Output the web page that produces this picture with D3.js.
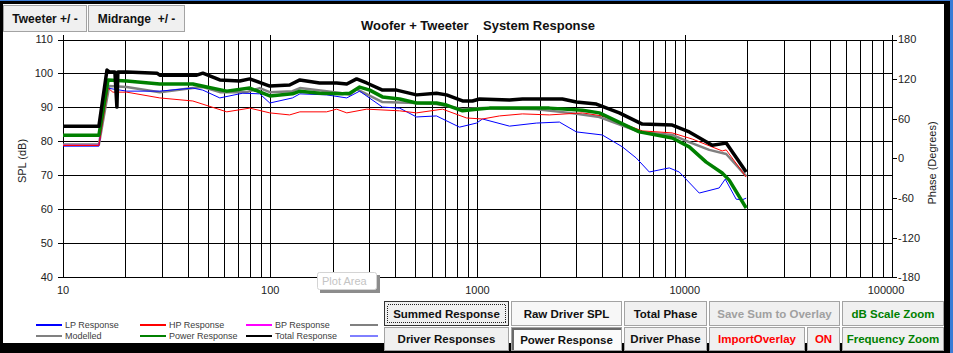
<!DOCTYPE html>
<html>
<head>
<meta charset="utf-8">
<script src="https://cdn.jsdelivr.net/npm/d3@7"></script>
<style>
  html, body { margin: 0; padding: 0; background: #000; }
  svg { display: block; font-family: "Liberation Sans", Arial, sans-serif; }
  .pre { white-space: pre; }
</style>
</head>
<body>
<svg id="chart" width="953" height="353"></svg>
<script>
// values: [frequency Hz, SPL dB]
const totalResponse = [[10,84.5],[14.9,84.5],[16.3,101.0],[16.8,100.4],[17.8,100.4],[18.2,90.1],[18.4,100.4],[20.3,100.4],[28.4,100.1],[29.3,99.5],[44.2,99.5],[47.3,100.1],[57.1,98.1],[71.3,97.8],[79.6,98.4],[99.5,96.3],[124,96.6],[139,98.1],[173,97.2],[209,97.2],[234,96.9],[261,98.4],[292,97.2],[348,95.1],[407,95.1],[508,93.7],[634,94.2],[709,93.7],[847,91.9],[946,91.9],[1022,92.5],[1427,92.2],[1648,92.5],[2568,92.5],[3000,91.6],[3745,91.0],[4832,88.4],[6237,85.1],[8706,84.8],[10513,82.8],[13570,78.9],[15850,79.5],[19790,71.0]]
const powerResponse = [[10,81.8],[14.9,81.8],[16.5,98.1],[20.3,97.8],[29.3,96.9],[42.3,96.9],[49.4,96.0],[61.7,94.8],[79.6,95.7],[99.5,93.4],[128,94.0],[139,94.8],[173,94.2],[223,94.0],[242,94.2],[270,96.0],[302,95.1],[348,93.1],[421,92.5],[508,91.3],[634,91.3],[709,90.7],[847,89.0],[989,89.5],[1142,89.8],[2222,89.8],[3206,89.2],[3872,88.4],[6036,82.8],[8706,81.0],[10513,78.4],[12695,73.9],[15160,70.7],[16390,68.6],[19790,60.4]]
const modelled = [[10,79.1],[14.9,79.1],[16.7,96.3],[20.3,96.0],[29.3,94.5],[42.3,95.7],[47.3,96.0],[57.1,94.5],[77.0,94.5],[89.0,95.7],[99.5,94.5],[128,94.8],[139,95.7],[187,94.8],[223,94.2],[242,93.7],[261,95.4],[348,91.6],[508,91.3],[634,91.0],[847,89.5],[1057,89.8],[1923,89.5],[2775,88.4],[3872,87.2],[6036,82.8],[8706,81.9],[10513,79.8],[13127,77.5],[15850,76.3],[19790,69.8]]
const hpResponse = [[10,78.8],[14.9,78.8],[16.5,95.7],[17.4,94.5],[20.3,94.5],[29.3,92.8],[42.3,91.9],[61.7,88.7],[79.6,89.8],[99.5,88.4],[124,87.8],[139,88.7],[187,88.7],[209,89.5],[234,88.4],[292,89.5],[421,89.0],[508,88.4],[678,89.5],[885,86.9],[1057,86.6],[1277,87.5],[1648,88.1],[2222,87.8],[3206,88.4],[4000,87.5],[6237,83.1],[8706,82.5],[10870,80.7],[15160,77.2],[15850,77.5],[19790,69.5]]
const lpResponse = [[10,78.6],[14.9,78.6],[16.3,95.7],[20.3,94.8],[29.3,94.8],[42.3,95.7],[47.3,95.1],[57.1,92.8],[73.7,94.2],[89.0,94.0],[99.5,91.3],[128,92.8],[139,94.0],[187,93.7],[234,92.8],[270,94.8],[348,90.1],[421,89.8],[508,87.2],[634,87.5],[819,84.2],[989,85.4],[1057,86.6],[1427,84.5],[1923,85.4],[2484,85.7],[3000,82.8],[4000,81.9],[5000,78.4],[5838,75.1],[6745,71.0],[8418,72.2],[9400,71.0],[11747,64.8],[14660,66.3],[15680,68.9],[17700,63.0],[18920,62.8],[19790,63.3]]
const bpResponse = [[10,78.9],[14.9,78.9],[16.4,95.2]]

const splTicks = [40, 50, 60, 70, 80, 90, 100, 110]
const phaseTicks = [-180, -120, -60, 0, 60, 120, 180]
const decadeTicks = [10, 100, 1000, 10000, 100000]

const legendRows = [
  [{label: 'LP Response', color: '#0000ff'}, {label: 'Modelled', color: '#808080'}],
  [{label: 'HP Response', color: '#ff0000'}, {label: 'Power Response', color: '#008000'}],
  [{label: 'BP Response', color: '#ff00ff'}, {label: 'Total Response', color: '#000000'}],
  [{label: '', color: '#808080'}, {label: '', color: '#0000ff', thin: true}]
]

const buttonsTop = [
  {label: 'Tweeter +/ -', x: 3, w: 84},
  {label: 'Midrange  +/ -', x: 88, w: 97}
]
const buttonsBottom = [
  {label: 'Summed Response', x: 384, w: 125, row: 0, focus: true},
  {label: 'Raw Driver SPL', x: 511, w: 111, row: 0, light: true},
  {label: 'Total Phase', x: 624, w: 83, row: 0},
  {label: 'Save Sum to Overlay', x: 709, w: 131, row: 0, color: '#a0a0a0'},
  {label: 'dB Scale Zoom', x: 842, w: 102, row: 0, color: '#008000'},
  {label: 'Driver Responses', x: 384, w: 125, row: 1},
  {label: 'Power Response', x: 511, w: 111, row: 1, pressed: true},
  {label: 'Driver Phase', x: 624, w: 83, row: 1},
  {label: 'ImportOverlay', x: 709, w: 96, row: 1, color: '#ff0000'},
  {label: 'ON', x: 807, w: 33, row: 1, color: '#ff0000'},
  {label: 'Frequency Zoom', x: 842, w: 102, row: 1, color: '#008000'}
]

const svg = d3.select('#chart')
const plotLeft = 63, plotRight = 892, plotTop = 39.5, plotBottom = 277.3

// window frame
svg.append('rect').attr('width', 953).attr('height', 353).attr('fill', '#000')
svg.append('rect').attr('width', 953).attr('height', 1).attr('fill', '#3a7bd5')
svg.append('rect').attr('x', 950).attr('width', 3).attr('height', 353).attr('fill', '#3a7bd5')
svg.append('rect').attr('x', 3).attr('y', 4).attr('width', 941).attr('height', 339).attr('fill', '#fff')

const x = d3.scaleLog().domain([10, 100000]).range([plotLeft, plotRight])
const y = d3.scaleLinear().domain([40, 110]).range([plotBottom, plotTop])
const yPhase = d3.scaleLinear().domain([-180, 180]).range([plotBottom, plotTop])

const grid = svg.append('g').attr('stroke', '#000').attr('stroke-width', 1).attr('shape-rendering', 'crispEdges')
const minorFreqs = d3.range(1, 5).flatMap(e => d3.range(1, 10).map(m => m * Math.pow(10, e))).concat([100000])
grid.selectAll('.vline').data(minorFreqs).join('line')
  .attr('x1', d => Math.round(x(d)) + 0.5).attr('x2', d => Math.round(x(d)) + 0.5)
  .attr('y1', d => decadeTicks.includes(d) ? plotTop - 5 : plotTop).attr('y2', plotBottom)
grid.selectAll('.hline').data(splTicks).join('line')
  .attr('x1', plotLeft - 5).attr('x2', plotRight)
  .attr('y1', d => Math.round(y(d)) + 0.5).attr('y2', d => Math.round(y(d)) + 0.5)
grid.selectAll('.ptick').data(phaseTicks).join('line')
  .attr('x1', plotRight).attr('x2', plotRight + 5)
  .attr('y1', d => Math.round(yPhase(d)) + 0.5).attr('y2', d => Math.round(yPhase(d)) + 0.5)

const tickText = svg.append('g').attr('font-size', 11).attr('fill', '#222')
tickText.selectAll('.yl').data(splTicks).join('text')
  .attr('x', plotLeft - 10).attr('y', d => y(d)).attr('dy', '0.36em').attr('text-anchor', 'end').text(d => d)
tickText.selectAll('.pl').data(phaseTicks).join('text')
  .attr('x', plotRight + 6).attr('y', d => yPhase(d)).attr('dy', '0.36em').text(d => d)
tickText.selectAll('.xl').data(decadeTicks).join('text')
  .attr('x', d => x(d) - (d === 100000 ? 6 : 0)).attr('y', 294).attr('text-anchor', 'middle').text(d => d)

svg.append('text').attr('font-size', 11).attr('fill', '#222').attr('text-anchor', 'middle')
  .attr('transform', 'translate(26,161) rotate(-90)').text('SPL (dB)')
svg.append('text').attr('font-size', 11).attr('fill', '#222').attr('text-anchor', 'middle')
  .attr('transform', 'translate(936,163) rotate(-90)').text('Phase (Degrees)')
svg.append('text').attr('class', 'pre').attr('font-size', 13).attr('font-weight', 'bold').attr('fill', '#111')
  .attr('text-anchor', 'middle').attr('x', 478).attr('y', 30).text('Woofer + Tweeter    System Response')

// response curves
const line = d3.line().x(d => x(d[0])).y(d => y(d[1]))
const curves = [
  {data: modelled, color: '#808080', width: 2.5},
  {data: bpResponse, color: '#ff00ff', width: 1},
  {data: lpResponse, color: '#0000ff', width: 1},
  {data: hpResponse, color: '#ff0000', width: 1},
  {data: powerResponse, color: '#008000', width: 3.5},
  {data: totalResponse, color: '#000000', width: 3.5}
]
svg.append('g').selectAll('path').data(curves).join('path')
  .attr('d', d => line(d.data)).attr('fill', 'none')
  .attr('stroke', d => d.color).attr('stroke-width', d => d.width)
  .attr('stroke-linejoin', 'round')

// "Plot Area" tooltip
svg.append('rect').attr('x', 320).attr('y', 275).attr('width', 60).attr('height', 18).attr('fill', '#8c8c8c')
svg.append('rect').attr('x', 317.5).attr('y', 272.5).attr('width', 59).attr('height', 17).attr('rx', 2)
  .attr('fill', '#fff').attr('stroke', '#d4d4d4')
svg.append('text').attr('x', 322).attr('y', 285).attr('font-size', 11).attr('fill', '#c4c4c4').text('Plot Area')

// legend
const legend = svg.append('g').attr('font-size', 9).attr('fill', '#404040')
legendRows.forEach((col, i) => {
  const lx = [36, 140, 246, 350][i]
  col.forEach((item, j) => {
    const ly = 325 + j * 11
    legend.append('line').attr('x1', lx).attr('x2', lx + (i === 3 ? 28 : 26)).attr('y1', ly).attr('y2', ly)
      .attr('stroke', item.color).attr('stroke-width', item.thin ? 1 : 2)
    legend.append('text').attr('x', lx + 29).attr('y', ly + 3).text(item.label)
  })
})

// buttons
const drawButton = (g, b, by, h, fontSize) => {
  const bg = g.append('g')
  bg.append('rect').attr('x', b.x + 0.5).attr('y', by + 0.5).attr('width', b.w - 1).attr('height', h - 1)
    .attr('fill', b.pressed ? '#fbfbfb' : b.light ? '#f7f7f7' : '#f0f0f0')
    .attr('stroke', b.focus ? '#333' : '#a3a3a3')
  if (b.pressed) {
    bg.append('path').attr('d', `M${b.x + 1.5},${by + h - 1}V${by + 1.5}H${b.x + b.w - 1}`)
      .attr('fill', 'none').attr('stroke', '#696969').attr('stroke-width', 2)
  }
  if (b.focus) {
    bg.append('rect').attr('x', b.x + 3.5).attr('y', by + 3.5).attr('width', b.w - 7).attr('height', h - 7)
      .attr('fill', 'none').attr('stroke', '#222').attr('stroke-dasharray', '1,1')
  }
  bg.append('text').attr('class', 'pre').attr('x', b.x + b.w / 2).attr('y', by + h / 2 + (b.pressed ? 1 : 0))
    .attr('dy', '0.36em').attr('text-anchor', 'middle')
    .attr('font-size', fontSize).attr('font-weight', 'bold').attr('fill', b.color || '#111').text(b.label)
}
const btns = svg.append('g').attr('shape-rendering', 'crispEdges')
buttonsTop.forEach(b => drawButton(btns, b, 5, 27, 12))
buttonsBottom.forEach(b => drawButton(btns, b, b.row ? 327 : 301, b.row ? 24 : 25, 11.5))
</script>
</body>
</html>
